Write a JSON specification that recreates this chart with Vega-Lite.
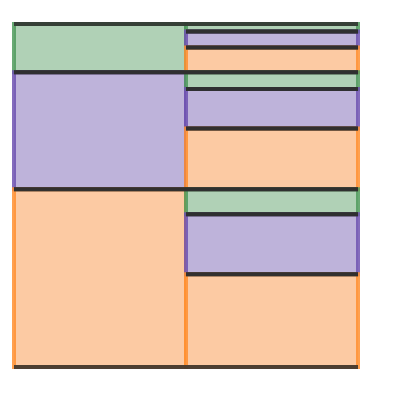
{
  "$schema": "https://vega.github.io/schema/vega-lite/v6.json",
  "width": 344,
  "height": 343,
  "autosize": {"type": "none"},
  "padding": {"left": 14, "top": 24, "right": 42, "bottom": 33},
  "view": {"stroke": null},
  "data": {"values": [
    {"col": "L", "grp": "a", "cat": "a", "value": 14.1},
    {"col": "L", "grp": "b", "cat": "b", "value": 34.2},
    {"col": "L", "grp": "c", "cat": "c", "value": 51.9},
    {"col": "R", "grp": "a", "cat": "a", "value": 2.2},
    {"col": "R", "grp": "a", "cat": "b", "value": 4.7},
    {"col": "R", "grp": "a", "cat": "c", "value": 7.2},
    {"col": "R", "grp": "b", "cat": "a", "value": 4.9},
    {"col": "R", "grp": "b", "cat": "b", "value": 11.5},
    {"col": "R", "grp": "b", "cat": "c", "value": 17.8},
    {"col": "R", "grp": "c", "cat": "a", "value": 7.3},
    {"col": "R", "grp": "c", "cat": "b", "value": 17.5},
    {"col": "R", "grp": "c", "cat": "c", "value": 27.1}
  ]},
  "transform": [
    {"stack": "value", "groupby": ["col"], "sort": [{"field": "grp", "order": "descending"}, {"field": "cat", "order": "descending"}], "as": ["y0", "y1"], "offset": "normalize"}
  ],
  "encoding": {
    "x": {"field": "col", "type": "nominal", "axis": null, "scale": {"paddingInner": 0, "paddingOuter": 0}}
  },
  "layer": [
    {
      "mark": {"type": "bar", "strokeWidth": 4, "strokeOpacity": 0.85},
      "encoding": {
        "y": {"field": "y0", "type": "quantitative", "axis": null, "scale": {"domain": [0, 1], "nice": false, "zero": false}},
        "y2": {"field": "y1"},
        "fill": {"field": "cat", "type": "nominal", "legend": null, "scale": {"domain": ["a", "b", "c"], "range": ["#b0d1b6", "#beb3da", "#fccaa3"]}},
        "stroke": {"field": "cat", "type": "nominal", "legend": null, "scale": {"domain": ["a", "b", "c"], "range": ["#4f9a5c", "#6e52b0", "#ff8f30"]}}
      }
    },
    {
      "mark": {"type": "tick", "color": "#2e2e2e", "thickness": 4, "size": 172, "opacity": 0.85},
      "encoding": {"y": {"field": "y1", "type": "quantitative"}}
    },
    {
      "mark": {"type": "tick", "color": "#2e2e2e", "thickness": 4, "size": 172, "opacity": 0.85},
      "encoding": {"y": {"field": "y0", "type": "quantitative"}}
    }
  ]
}
